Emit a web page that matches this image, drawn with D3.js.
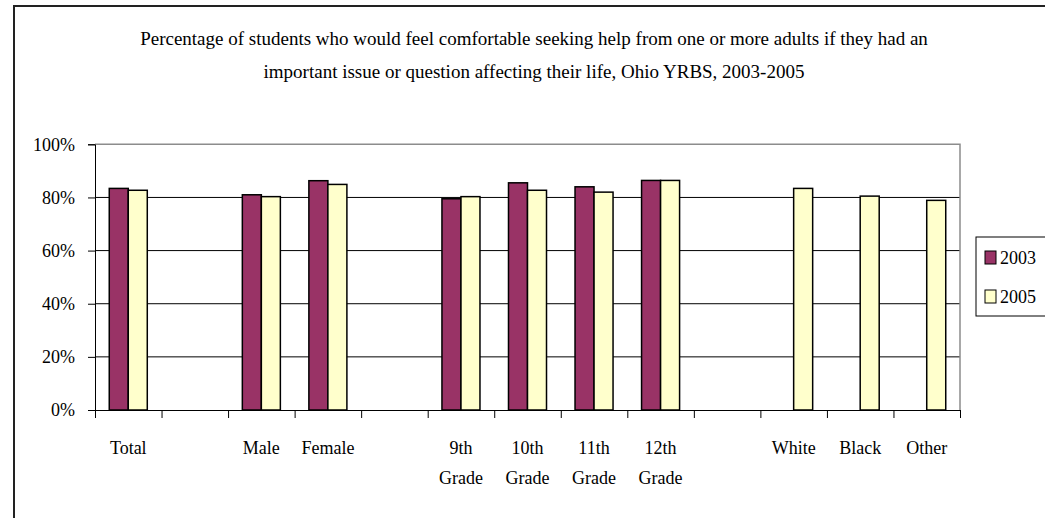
<!DOCTYPE html>
<html>
<head>
<meta charset="utf-8">
<script src="https://cdn.jsdelivr.net/npm/d3@7"></script>
<style>
  html, body { margin: 0; padding: 0; background: #fff; }
  svg { display: block; }
  text { font-family: "Liberation Serif", "Times New Roman", serif; fill: #000; }
</style>
</head>
<body>
<svg id="chart" width="1045" height="518"></svg>
<script>
const titleLines = [
  "Percentage of students who would feel comfortable seeking help from one or more adults if they had an",
  "important issue or question affecting their life, Ohio YRBS, 2003-2005"
];
const categories = ["Total", "", "Male", "Female", "", "9th\nGrade", "10th\nGrade", "11th\nGrade", "12th\nGrade", "", "White", "Black", "Other"];
const seriesNames = ["2003", "2005"];
const values2003 = [83.4, null, 81.0, 86.3, null, 79.5, 85.5, 84.0, 86.4, null, null, null, null];
const values2005 = [82.7, null, 80.3, 84.9, null, 80.3, 82.7, 82.0, 86.4, null, 83.4, 80.5, 78.9];
const yTicks = [0, 20, 40, 60, 80, 100];
const colors = ["#993366", "#FFFFCC"];

const svg = d3.select("#chart");
const pLeft = 95, pRight = 960, pTop = 144.3, pBottom = 410;

// outer border
svg.append("rect").attr("x", 14).attr("y", 6).attr("width", 1100).attr("height", 600)
  .attr("fill", "none").attr("stroke", "#222").attr("stroke-width", 2);

// title
svg.append("g").selectAll("text").data(titleLines).join("text")
  .attr("x", 534).attr("y", (d, i) => 45 + i * 33)
  .attr("text-anchor", "middle").attr("font-size", 19).text(d => d);

const x = d3.scaleBand().domain(d3.range(categories.length)).range([pLeft, pRight]).padding(0);
const bw = x.bandwidth();
const groupW = bw * 2 / 3.5;
const xs = d3.scaleBand().domain(seriesNames).range([(bw - groupW) / 2, (bw + groupW) / 2]);
const y = d3.scaleLinear().domain([0, 100]).range([pBottom, pTop]);

// gridlines
svg.append("g").selectAll("line").data(yTicks.filter(t => t > 0 && t < 100)).join("line")
  .attr("x1", pLeft).attr("x2", pRight).attr("y1", d => y(d)).attr("y2", d => y(d))
  .attr("stroke", "#000").attr("stroke-width", 1);

// plot area border top/right (gray)
svg.append("path")
  .attr("d", `M${pLeft},${y(100)}H${pRight}V${pBottom}`)
  .attr("fill", "none").attr("stroke", "#8c8c8c").attr("stroke-width", 1.5);

// bars
const seriesData = [values2003, values2005];
seriesData.forEach((vals, si) => {
  svg.append("g").selectAll("rect")
    .data(vals.map((v, i) => ({ v, i })).filter(d => d.v != null))
    .join("rect")
    .attr("x", d => x(d.i) + xs(seriesNames[si]))
    .attr("width", xs.bandwidth())
    .attr("y", d => y(d.v))
    .attr("height", d => pBottom - y(d.v))
    .attr("fill", colors[si])
    .attr("stroke", "#000").attr("stroke-width", 1.5);
});

// y axis
const yAxis = svg.append("g").attr("transform", `translate(${pLeft},0)`)
  .call(d3.axisLeft(y).tickValues(yTicks).tickFormat(d => d + "%").tickSize(7).tickPadding(13));
yAxis.selectAll("text").attr("font-size", 18).attr("font-family", "Liberation Serif").attr("fill", "#000");
yAxis.selectAll("line, path").attr("stroke", "#000");

// x axis ticks at band boundaries
const xb = d3.scaleLinear().domain([0, categories.length]).range([pLeft, pRight]);
const xAxis = svg.append("g").attr("transform", `translate(0,${pBottom})`)
  .call(d3.axisBottom(xb).tickValues(d3.range(categories.length + 1)).tickFormat("").tickSize(8).tickSizeOuter(0));
xAxis.selectAll("line, path").attr("stroke", "#000");

// x labels
const lab = svg.append("g").selectAll("text").data(categories.map((c, i) => ({ c, i }))).join("text")
  .attr("x", d => x(d.i) + bw / 2).attr("y", 454)
  .attr("text-anchor", "middle").attr("font-size", 18);
lab.selectAll("tspan").data(d => d.c.split("\n").map(s => ({ s, x: x(d.i) + bw / 2 }))).join("tspan")
  .attr("x", d => d.x).attr("dy", (d, i) => i === 0 ? 0 : 30).text(d => d.s);

// legend
const lg = svg.append("g");
lg.append("rect").attr("x", 976).attr("y", 237).attr("width", 100).attr("height", 79)
  .attr("fill", "#fff").attr("stroke", "#000").attr("stroke-width", 1);
seriesNames.forEach((s, i) => {
  lg.append("rect").attr("x", 985).attr("y", 251 + i * 39).attr("width", 11).attr("height", 13)
    .attr("fill", colors[i]).attr("stroke", "#000").attr("stroke-width", 1);
  lg.append("text").attr("x", 1000).attr("y", 263.5 + i * 39).attr("font-size", 18).text(s);
});
</script>
</body>
</html>
